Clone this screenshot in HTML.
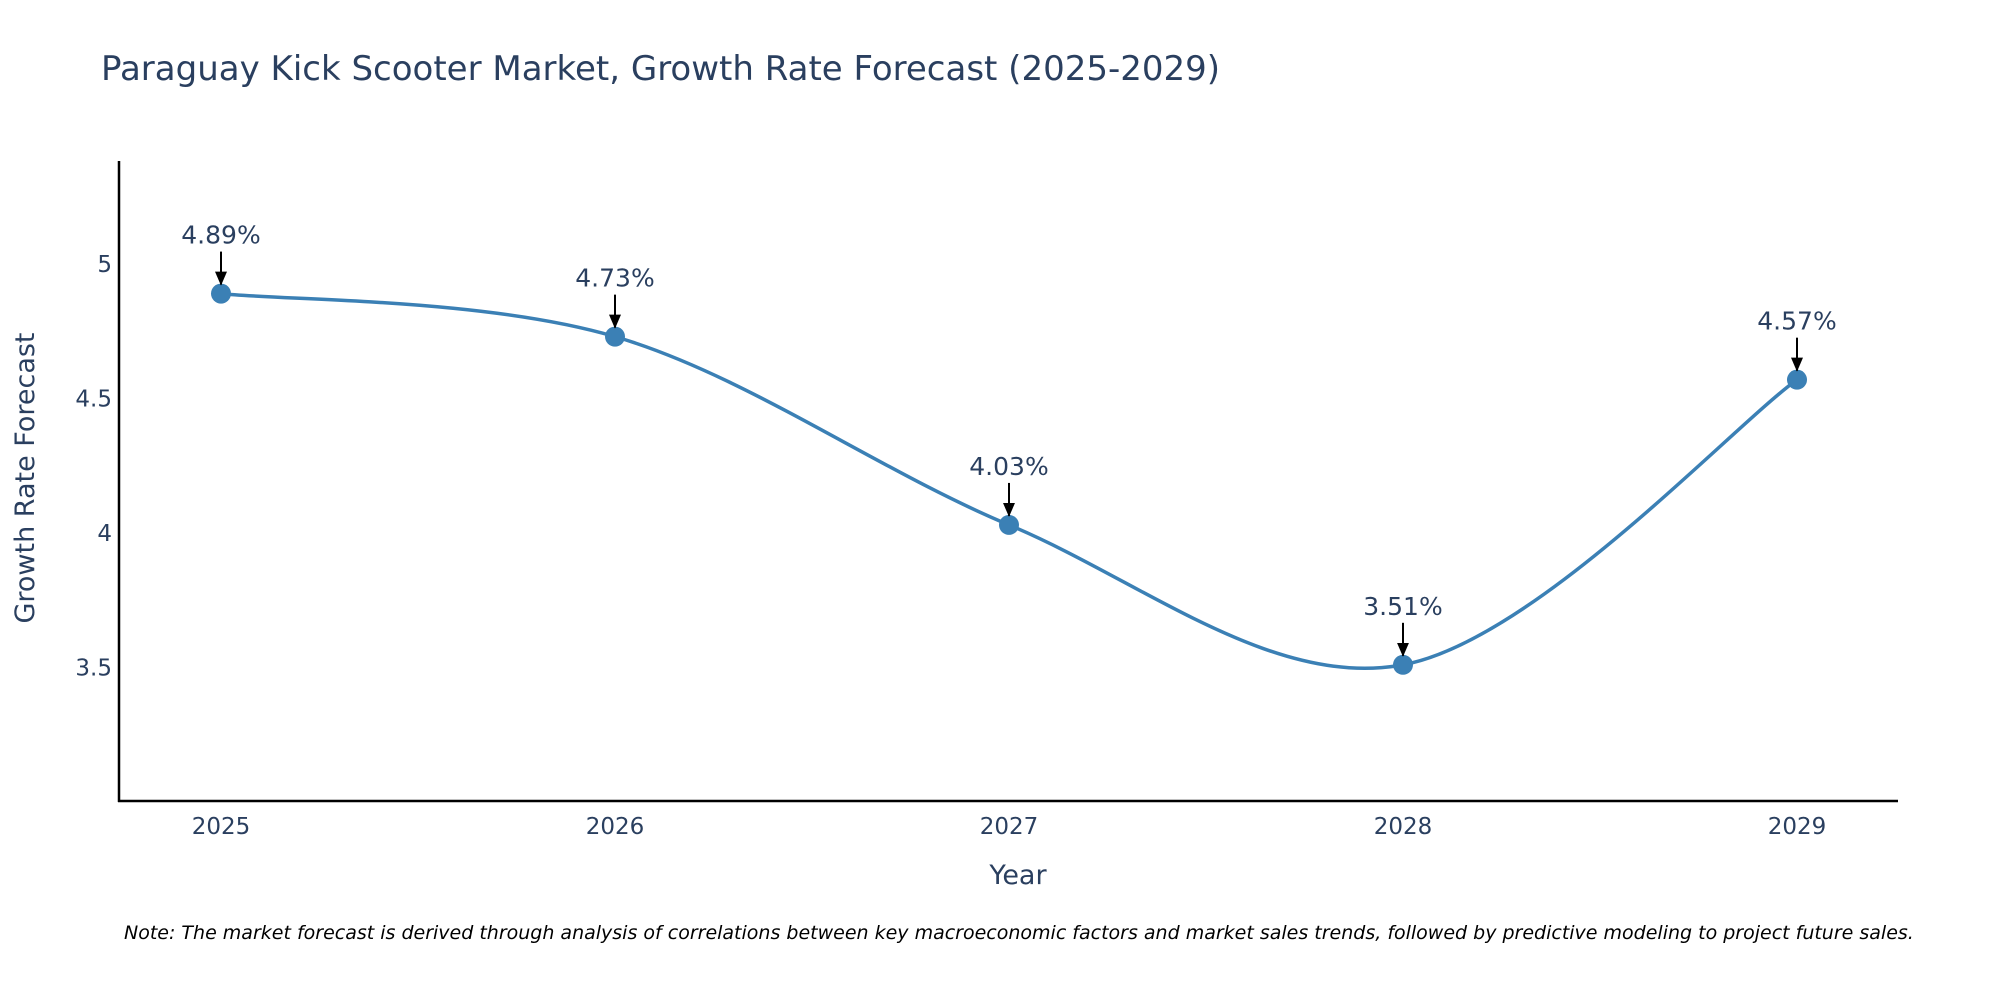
<!DOCTYPE html>
<html><head><meta charset="utf-8"><style>
body{margin:0;background:#fff;}
svg{display:block;font-family:"DejaVu Sans","Liberation Sans",sans-serif;}
</style></head><body>
<svg id="chart" width="2000" height="1000">
<defs><marker id="ah2" markerWidth="14" markerHeight="14" refX="13" refY="7" orient="auto" markerUnits="userSpaceOnUse" viewBox="0 0 14 14"><path d="M0,1 L14,7 L0,13 z" fill="#000"/></marker></defs>
<text x="101" y="80" font-size="34" fill="#2a3f5f">Paraguay Kick Scooter Market, Growth Rate Forecast (2025-2029)</text>
<g id="plot"></g>
<line x1="119" y1="161" x2="119" y2="802" stroke="#000" stroke-width="2.5"/>
<line x1="118" y1="801" x2="1898" y2="801" stroke="#000" stroke-width="2.5"/>
<text x="1018" y="884" font-size="27" fill="#2a3f5f" text-anchor="middle">Year</text>
<text transform="translate(34,478) rotate(-90)" font-size="27" fill="#2a3f5f" text-anchor="middle">Growth Rate Forecast</text>
<text x="124" y="939" font-size="19" font-style="italic" fill="#000">Note: The market forecast is derived through analysis of correlations between key macroeconomic factors and market sales trends, followed by predictive modeling to project future sales.</text>
</svg>
<script>
const years = [2025, 2026, 2027, 2028, 2029];
const values = [4.89, 4.73, 4.03, 3.51, 4.57];
const labels = ["4.89%", "4.73%", "4.03%", "3.51%", "4.57%"];
const yTicks = [3.5, 4, 4.5, 5];
const yTickLabels = ["3.5", "4", "4.5", "5"];

const NS = "http://www.w3.org/2000/svg";
const g = document.getElementById('plot');
const X = v => 221 + (v - 2025) * 394;
const Y = v => 264 + (5 - v) * 269;
function mk(tag, attrs) { const e = document.createElementNS(NS, tag); for (const k in attrs) e.setAttribute(k, attrs[k]); g.appendChild(e); return e; }

yTicks.forEach((t, i) => {
  const e = mk('text', {x: 112, y: Y(t) + 8, 'font-size': 23, fill: '#2a3f5f', 'text-anchor': 'end'});
  e.textContent = yTickLabels[i];
  
  
});
years.forEach(yr => {
  const e = mk('text', {x: X(yr), y: 834, 'font-size': 23, fill: '#2a3f5f', 'text-anchor': 'middle'});
  e.textContent = String(yr);
  
  
});

const pts = years.map((yr, i) => [X(yr), Y(values[i])]);
let d = `M${pts[0][0]},${pts[0][1]}`;
const s = 1/6;
for (let i = 0; i < pts.length - 1; i++) {
  const p0 = pts[Math.max(i - 1, 0)], p1 = pts[i], p2 = pts[i + 1], p3 = pts[Math.min(i + 2, pts.length - 1)];
  const c1 = [p1[0] + (p2[0] - p0[0]) * s, p1[1] + (p2[1] - p0[1]) * s];
  const c2 = [p2[0] - (p3[0] - p1[0]) * s, p2[1] - (p3[1] - p1[1]) * s];
  d += ` C${c1[0]},${c1[1]} ${c2[0]},${c2[1]} ${p2[0]},${p2[1]}`;
}
const line = mk('path', {d: d, fill: 'none', stroke: '#3b80b5', 'stroke-width': 3.5});



pts.forEach((p, i) => {
  const c = mk('circle', {cx: p[0], cy: p[1], r: 10, fill: '#3b80b5'});
  
  
  const a = mk('line', {x1: p[0], y1: p[1] - 42, x2: p[0], y2: p[1] - 9, stroke: '#000', 'stroke-width': 2, 'marker-end': 'url(#ah2)'});
  
  
  const t = mk('text', {x: p[0], y: p[1] - 50, 'font-size': 25, fill: '#2a3f5f', 'text-anchor': 'middle'});
  t.textContent = labels[i];
  
  
});
</script>
</body></html>
